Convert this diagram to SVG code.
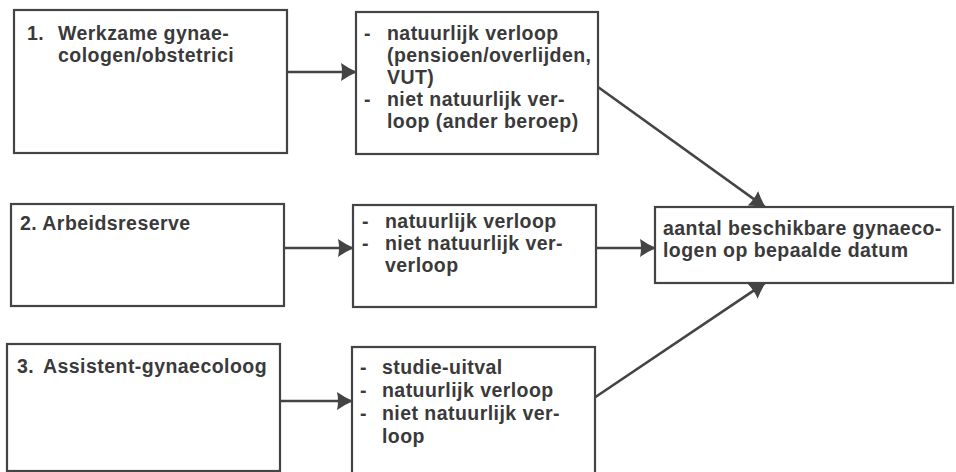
<svg xmlns="http://www.w3.org/2000/svg" width="956" height="472" viewBox="0 0 956 472">
<defs>
<style>
.box{fill:#fff;stroke:#444;stroke-width:2.2}
.t{font-family:"Liberation Sans",Arial,sans-serif;font-weight:bold;font-size:19.5px;letter-spacing:0.45px;fill:#3a3a3a}
.c{stroke:#444;stroke-width:2.6;fill:none}
</style>
<marker id="ah" viewBox="0 0 16 18" refX="15" refY="9" markerWidth="16" markerHeight="18" markerUnits="userSpaceOnUse" orient="auto">
<path d="M0,0 Q7,5 16,9 Q7,13 0,18 Q2,9 0,0 Z" fill="#444"/>
</marker>
</defs>
<rect width="956" height="472" fill="#fff"/>
<g id="connectors">
<line class="c" x1="287" y1="72" x2="356" y2="72" marker-end="url(#ah)"/>
<line class="c" x1="284" y1="248" x2="353" y2="248" marker-end="url(#ah)"/>
<line class="c" x1="280" y1="401" x2="352" y2="401" marker-end="url(#ah)"/>
<line class="c" x1="596" y1="248" x2="655" y2="248" marker-end="url(#ah)"/>
<line class="c" x1="598" y1="87" x2="765" y2="207" marker-end="url(#ah)"/>
<line class="c" x1="594" y1="398" x2="765" y2="283" marker-end="url(#ah)"/>
</g>
<g id="n1">
<rect class="box" x="14" y="10" width="273" height="143"/>
<text class="t" x="27" y="40">1.</text>
<text class="t" x="58" y="40">Werkzame gynae-</text>
<text class="t" x="58" y="62">cologen/obstetrici</text>
</g>
<g id="m1">
<rect class="box" x="356" y="12" width="242" height="142"/>
<text class="t" x="364" y="40">-</text>
<text class="t" x="387" y="40">natuurlijk verloop</text>
<text class="t" x="387" y="62">(pensioen/overlijden,</text>
<text class="t" x="387" y="84">VUT)</text>
<text class="t" x="364" y="106">-</text>
<text class="t" x="387" y="106">niet natuurlijk ver-</text>
<text class="t" x="387" y="128">loop (ander beroep)</text>
</g>
<g id="n2">
<rect class="box" x="11" y="204" width="273" height="102"/>
<text class="t" x="20" y="230">2. Arbeidsreserve</text>
</g>
<g id="m2">
<rect class="box" x="353" y="205" width="243" height="102"/>
<text class="t" x="362" y="228">-</text>
<text class="t" x="385" y="228">natuurlijk verloop</text>
<text class="t" x="362" y="250">-</text>
<text class="t" x="385" y="250">niet natuurlijk ver-</text>
<text class="t" x="385" y="272">verloop</text>
</g>
<g id="target">
<rect class="box" x="655" y="207" width="298" height="76"/>
<text class="t" x="663" y="235">aantal beschikbare gynaeco-</text>
<text class="t" x="663" y="257">logen op bepaalde datum</text>
</g>
<g id="n3">
<rect class="box" x="7" y="344" width="273" height="127"/>
<text class="t" x="17" y="373">3.</text>
<text class="t" x="43" y="373">Assistent-gynaecoloog</text>
</g>
<g id="m3">
<rect class="box" x="352" y="347" width="243" height="140"/>
<text class="t" x="360" y="374">-</text>
<text class="t" x="382" y="374">studie-uitval</text>
<text class="t" x="360" y="397">-</text>
<text class="t" x="382" y="397">natuurlijk verloop</text>
<text class="t" x="360" y="420">-</text>
<text class="t" x="382" y="420">niet natuurlijk ver-</text>
<text class="t" x="382" y="443">loop</text>
</g>
</svg>
